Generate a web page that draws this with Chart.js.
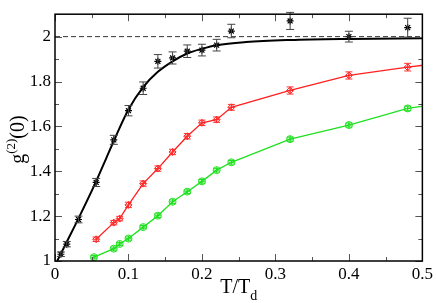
<!DOCTYPE html>
<html>
<head>
<meta charset="utf-8">
<script src="https://cdn.jsdelivr.net/npm/chart.js@4"></script>
<style>
  body { margin: 0; background: #fff; }
  canvas { display: block; }
</style>
</head>
<body>
<canvas id="g2Chart" width="436" height="303"></canvas>
<script>
// data
var blackX = [0.008, 0.016, 0.032, 0.056, 0.08, 0.1, 0.12, 0.14, 0.16, 0.18, 0.2, 0.22, 0.24, 0.32, 0.4, 0.48];
var blackY = [1.03, 1.075, 1.185, 1.35, 1.54, 1.67, 1.77, 1.89, 1.905, 1.935, 1.94, 1.962, 2.025, 2.07, 2.0, 2.04];
var blackErr = [0.01, 0.012, 0.015, 0.018, 0.02, 0.023, 0.028, 0.03, 0.027, 0.028, 0.026, 0.026, 0.03, 0.038, 0.024, 0.042];

var redX = [0.056, 0.08, 0.088, 0.1, 0.12, 0.14, 0.16, 0.18, 0.2, 0.22, 0.24, 0.32, 0.4, 0.48, 0.56];
var redY = [1.097, 1.171, 1.189, 1.25, 1.345, 1.412, 1.486, 1.556, 1.616, 1.63, 1.685, 1.76, 1.827, 1.864, 1.896];
var redErr = [0.01, 0.01, 0.01, 0.012, 0.012, 0.012, 0.012, 0.012, 0.012, 0.012, 0.013, 0.016, 0.016, 0.017, 0.017];

var greenX = [0.053, 0.08, 0.088, 0.1, 0.12, 0.14, 0.16, 0.18, 0.2, 0.22, 0.24, 0.32, 0.4, 0.48, 0.56];
var greenY = [1.017, 1.055, 1.076, 1.1, 1.151, 1.202, 1.264, 1.309, 1.355, 1.405, 1.44, 1.543, 1.606, 1.68, 1.72];
var greenErr = [0.007, 0.007, 0.007, 0.007, 0.007, 0.008, 0.008, 0.008, 0.008, 0.008, 0.008, 0.009, 0.009, 0.01, 0.01];

// fitted curve, traced
var fitX = [0.003, 0.016, 0.032, 0.056, 0.07, 0.08, 0.1, 0.12, 0.14, 0.16, 0.18, 0.2, 0.22, 0.26, 0.32, 0.4, 0.5];
var fitY = [1.0, 1.085, 1.19, 1.355, 1.46, 1.535, 1.675, 1.775, 1.843, 1.89, 1.925, 1.946, 1.962, 1.976, 1.985, 1.99, 1.993];

var refX = [0, 0.5];
var refY = [2, 2];

var xTicks = [0, 0.1, 0.2, 0.3, 0.4, 0.5];
var xMinor = [0.05, 0.15, 0.25, 0.35, 0.45];
var yTicks = [1, 1.2, 1.4, 1.6, 1.8, 2];
var yMinor = [1.1, 1.3, 1.5, 1.7, 1.9];

function pts(xs, ys) {
	return xs.map(function(v, i) { return {x: v, y: ys[i]}; });
}

var serif = '"Liberation Serif", "Times New Roman", "DejaVu Serif", serif';

var errorBars = {
	id: 'errorBars',
	afterDatasetsDraw: function(chart) {
		var ctx = chart.ctx, xs = chart.scales.x, ys = chart.scales.y;
		ctx.save();
		chart.data.datasets.forEach(function(ds) {
			if (!ds.errors) return;
			ctx.strokeStyle = ds.errColor;
			ctx.lineWidth = 1;
			ds.data.forEach(function(p, i) {
				if (p.x > xs.max) return;
				var px = xs.getPixelForValue(p.x);
				var top = ys.getPixelForValue(p.y + ds.errors[i]);
				var bot = ys.getPixelForValue(p.y - ds.errors[i]);
				var w = ds.capWidth;
				ctx.beginPath();
				ctx.moveTo(px, top); ctx.lineTo(px, bot);
				ctx.moveTo(px - w, top); ctx.lineTo(px + w, top);
				ctx.moveTo(px - w, bot); ctx.lineTo(px + w, bot);
				ctx.stroke();
			});
		});
		ctx.restore();
	}
};

var frame = {
	id: 'frame',
	afterDraw: function(chart) {
		var ctx = chart.ctx, a = chart.chartArea, xs = chart.scales.x, ys = chart.scales.y;
		ctx.save();
		// inward ticks on all four sides
		ctx.strokeStyle = '#555';
		ctx.lineWidth = 1;
		ctx.beginPath();
		xTicks.concat(xMinor).forEach(function(v) {
			var px = Math.round(xs.getPixelForValue(v)) + 0.5;
			var len = xTicks.indexOf(v) >= 0 ? 7 : 4;
			ctx.moveTo(px, a.bottom); ctx.lineTo(px, a.bottom - len);
			ctx.moveTo(px, a.top); ctx.lineTo(px, a.top + len);
		});
		yTicks.concat(yMinor).forEach(function(v) {
			var py = Math.round(ys.getPixelForValue(v)) + 0.5;
			var len = yTicks.indexOf(v) >= 0 ? 7 : 4;
			ctx.moveTo(a.left, py); ctx.lineTo(a.left + len, py);
			ctx.moveTo(a.right, py); ctx.lineTo(a.right - len, py);
		});
		ctx.stroke();
		ctx.strokeStyle = '#000';
		ctx.lineWidth = 1.5;
		ctx.strokeRect(a.left, a.top, a.right - a.left, a.bottom - a.top);

		// axis titles
		ctx.fillStyle = '#000';
		ctx.textBaseline = 'alphabetic';
		ctx.textAlign = 'left';
		var big = '20px ' + serif, small = '14px ' + serif;
		ctx.font = big;
		var wT = ctx.measureText('T/T').width;
		ctx.font = small;
		var wd = ctx.measureText('d').width;
		var cx = (a.left + a.right) / 2 - (wT + wd) / 2;
		ctx.font = big;
		ctx.fillText('T/T', cx, 293);
		ctx.font = small;
		ctx.fillText('d', cx + wT, 300);

		ctx.translate(24, (a.top + a.bottom) / 2 + 2);
		ctx.rotate(-Math.PI / 2);
		ctx.font = big;
		var wg = ctx.measureText('g').width, w0 = ctx.measureText('(0)').width;
		ctx.font = '13px ' + serif;
		var w2 = ctx.measureText('(2)').width;
		var sx = -(wg + w2 + w0) / 2;
		ctx.font = big;
		ctx.fillText('g', sx, 0);
		ctx.font = '13px ' + serif;
		ctx.fillText('(2)', sx + wg, -9);
		ctx.font = big;
		ctx.fillText('(0)', sx + wg + w2, 0);
		ctx.restore();
	}
};

var ctx = document.getElementById('g2Chart');
var g2Chart = new Chart(ctx, {
	type: 'scatter',
	data: {
		datasets: [{
			data: pts(refX, refY),
			showLine: true,
			borderColor: '#333',
			borderWidth: 1,
			borderDash: [5, 3],
			pointRadius: 0
		}, {
			data: pts(fitX, fitY),
			showLine: true,
			borderColor: '#000',
			borderWidth: 2,
			cubicInterpolationMode: 'monotone',
			pointRadius: 0
		}, {
			data: pts(redX, redY),
			showLine: true,
			borderColor: '#ff2020',
			borderWidth: 1.3,
			pointStyle: 'rectRot',
			pointRadius: 3.5,
			pointBorderColor: '#ff2020',
			pointBackgroundColor: 'rgba(0,0,0,0)',
			pointBorderWidth: 1,
			errors: redErr,
			errColor: '#ff3030',
			capWidth: 3.5
		}, {
			data: pts(redX, redY),
			showLine: false,
			pointStyle: 'cross',
			pointRadius: 3,
			pointBorderColor: '#ff2020',
			pointBorderWidth: 1
		}, {
			data: pts(greenX, greenY),
			showLine: true,
			borderColor: '#20e020',
			borderWidth: 1.3,
			pointStyle: 'circle',
			pointRadius: 3.5,
			pointBorderColor: '#20e020',
			pointBackgroundColor: 'rgba(0,0,0,0)',
			pointBorderWidth: 1,
			errors: greenErr,
			errColor: '#20e020',
			capWidth: 3.5
		}, {
			data: pts(greenX, greenY),
			showLine: false,
			pointStyle: 'cross',
			pointRadius: 3,
			pointBorderColor: '#20e020',
			pointBorderWidth: 1
		}, {
			data: pts(blackX, blackY),
			showLine: false,
			pointStyle: 'star',
			pointRadius: 3.5,
			pointBorderColor: '#000',
			pointBorderWidth: 1.2,
			errors: blackErr,
			errColor: '#444',
			capWidth: 4
		}]
	},
	plugins: [errorBars, frame],
	options: {
		responsive: false,
		animation: false,
		layout: { padding: { top: 1, right: 10, left: 0, bottom: 0 } },
		plugins: { legend: { display: false }, tooltip: { enabled: false } },
		scales: {
			x: {
				type: 'linear',
				min: 0, max: 0.5,
				grid: { display: false, drawTicks: false },
				border: { display: false },
				afterBuildTicks: function(s) { s.ticks = xTicks.map(function(v) { return {value: v}; }); },
				afterFit: function(s) { s.height = 42; },
				ticks: {
					padding: 3,
					color: '#000',
					font: { family: serif, size: 17 },
					maxRotation: 0,
					callback: function(v) { return String(+v.toFixed(2)); }
				}
			},
			y: {
				type: 'linear',
				min: 1, max: 2.1,
				grid: { display: false, drawTicks: false },
				border: { display: false },
				afterBuildTicks: function(s) { s.ticks = yTicks.map(function(v) { return {value: v}; }); },
				afterFit: function(s) { s.width = 55; },
				ticks: {
					padding: 4,
					color: '#000',
					font: { family: serif, size: 17 },
					callback: function(v) { return String(+v.toFixed(2)); }
				}
			}
		}
	}
});
</script>
</body>
</html>
